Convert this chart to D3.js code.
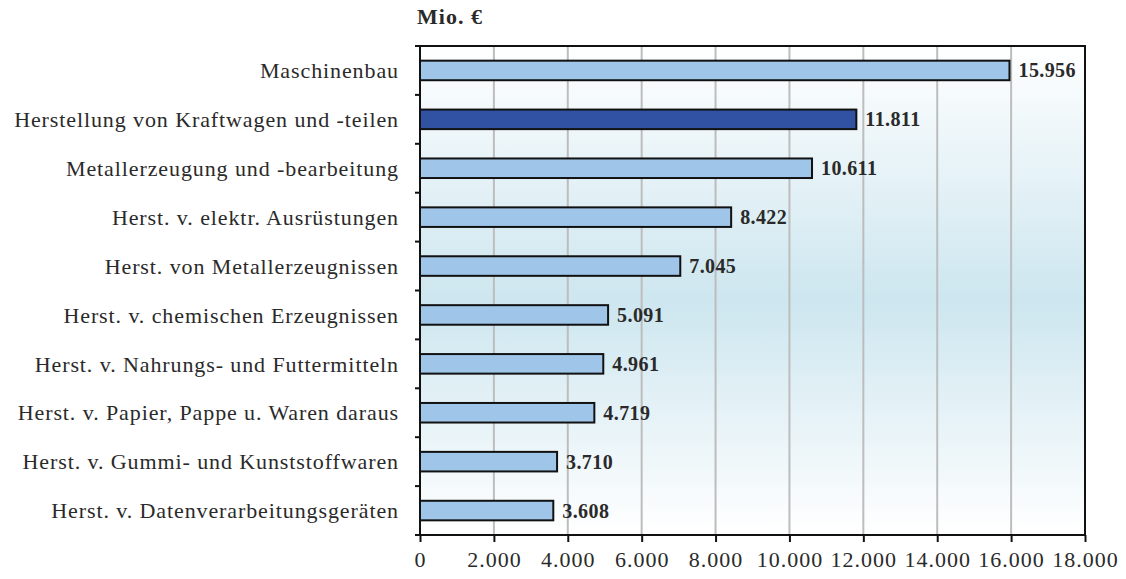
<!DOCTYPE html>
<html>
<head>
<meta charset="utf-8">
<style>
  body { margin: 0; background: #fff; }
  svg text { font-family: "Liberation Serif", "DejaVu Serif", serif; fill: #2a2a2a; }
  .grid line { stroke: #bdbdbd; stroke-width: 2px; }
  .bars rect { stroke: #111; stroke-width: 2px; }
</style>
</head>
<body>
<svg width="1126" height="579"></svg>
<script src="https://cdn.jsdelivr.net/npm/d3@7"></script>
<script>
// Branchen, Werte in Mio. €
var categories = [
  "Maschinenbau",
  "Herstellung von Kraftwagen und -teilen",
  "Metallerzeugung und -bearbeitung",
  "Herst. v. elektr. Ausrüstungen",
  "Herst. von Metallerzeugnissen",
  "Herst. v. chemischen Erzeugnissen",
  "Herst. v. Nahrungs- und Futtermitteln",
  "Herst. v. Papier, Pappe u. Waren daraus",
  "Herst. v. Gummi- und Kunststoffwaren",
  "Herst. v. Datenverarbeitungsgeräten"
];
var values = [15956, 11811, 10611, 8422, 7045, 5091, 4961, 4719, 3710, 3608];
var highlight = ["Herstellung von Kraftwagen und -teilen"];
var xTicks = [0, 2000, 4000, 6000, 8000, 10000, 12000, 14000, 16000, 18000];

var svg = d3.select("svg");
var plotL = 420, plotR = 1085, plotT = 46, plotB = 535;

var fmt = d3.formatLocale({decimal: ",", thousands: ".", grouping: [3], currency: ["", " €"]}).format(",");

var x = d3.scaleLinear().domain([0, 18000]).range([plotL, plotR]);
var y = d3.scaleBand().domain(categories).range([plotT, plotB]).paddingInner(0.6).paddingOuter(0.3);

// Hintergrundverlauf
var defs = svg.append("defs");
var grad = defs.append("linearGradient").attr("id", "bg").attr("x1", 0).attr("y1", 0).attr("x2", 0).attr("y2", 1);
grad.append("stop").attr("offset", "0%").attr("stop-color", "#ffffff");
grad.append("stop").attr("offset", "52%").attr("stop-color", "#cde6ef");
grad.append("stop").attr("offset", "100%").attr("stop-color", "#ffffff");

svg.append("rect")
  .attr("x", plotL).attr("y", plotT)
  .attr("width", plotR - plotL).attr("height", plotB - plotT)
  .attr("fill", "url(#bg)");

// Gitterlinien
svg.append("g").attr("class", "grid")
  .selectAll("line")
  .data(xTicks.slice(1, -1))
  .enter().append("line")
  .attr("x1", function(d) { return x(d); })
  .attr("x2", function(d) { return x(d); })
  .attr("y1", plotT).attr("y2", plotB);

// Balken
svg.append("g").attr("class", "bars")
  .selectAll("rect")
  .data(categories)
  .enter().append("rect")
  .attr("x", x(0))
  .attr("y", function(d) { return y(d); })
  .attr("width", function(d, i) { return x(values[i]) - x(0); })
  .attr("height", y.bandwidth())
  .attr("fill", function(d) { return highlight.indexOf(d) >= 0 ? "#3152a3" : "#9fc6e9"; });

// Werte
svg.append("g")
  .selectAll("text")
  .data(categories)
  .enter().append("text")
  .attr("x", function(d, i) { return x(values[i]) + 9; })
  .attr("y", function(d) { return y(d) + y.bandwidth() / 2; })
  .attr("dy", "0.35em")
  .attr("font-size", "20px")
  .attr("font-weight", "bold")
  .attr("letter-spacing", "0.4px")
  .text(function(d, i) { return fmt(values[i]); });

// Rahmen
svg.append("rect")
  .attr("x", plotL).attr("y", plotT)
  .attr("width", plotR - plotL).attr("height", plotB - plotT)
  .attr("fill", "none").attr("stroke", "#111").attr("stroke-width", 2);

// x-Achse
var xAxis = svg.append("g")
  .attr("transform", "translate(0," + plotB + ")")
  .call(d3.axisBottom(x).tickValues(xTicks).tickSize(7).tickPadding(9).tickFormat(fmt));
xAxis.select(".domain").remove();
xAxis.selectAll("line").attr("stroke", "#111").attr("stroke-width", 2);
xAxis.selectAll("text")
  .attr("font-size", "22px")
  .attr("letter-spacing", "1px")
  .attr("font-family", "Liberation Serif, serif")
  .attr("fill", "#2a2a2a");

// y-Achse: Kategorien + Trennstriche
var yBounds = d3.range(categories.length + 1).map(function(i) { return plotT + (plotB - plotT) * i / categories.length; });
svg.append("g")
  .selectAll("line")
  .data(yBounds)
  .enter().append("line")
  .attr("x1", plotL - 5).attr("x2", plotL)
  .attr("y1", function(d) { return d; }).attr("y2", function(d) { return d; })
  .attr("stroke", "#111").attr("stroke-width", 2);

svg.append("g")
  .selectAll("text")
  .data(categories)
  .enter().append("text")
  .attr("x", plotL - 21)
  .attr("y", function(d) { return y(d) + y.bandwidth() / 2; })
  .attr("dy", "0.35em")
  .attr("text-anchor", "end")
  .attr("font-size", "22px")
  .attr("letter-spacing", "0.9px")
  .text(function(d) { return d; });

// Einheit
svg.append("text")
  .attr("x", plotL - 3).attr("y", 24)
  .attr("font-size", "22px")
  .attr("font-weight", "bold")
  .attr("letter-spacing", "1px")
  .text("Mio. €");
</script>
</body>
</html>
